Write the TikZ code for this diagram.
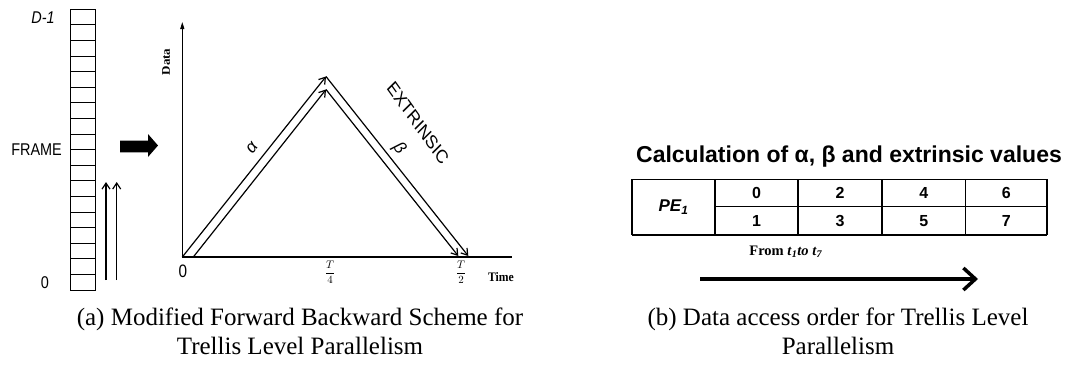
\documentclass[tikz,border=0pt]{standalone}
\usepackage{fontspec}
\setmainfont{Liberation Serif}
\setsansfont{Liberation Sans}
\usetikzlibrary{arrows.meta}

\tikzset{
  sflabel/.style={font=\sffamily\fontsize{17}{19}\selectfont, inner sep=0pt, xscale=0.85},
  axlabel/.style={font=\bfseries\fontsize{13}{15}\selectfont, inner sep=0pt, xscale=0.9},
  flow/.style={-{Straight Barb[length=6pt,width=8pt]}, line width=1.2pt},
  cellnum/.style={font=\sffamily\bfseries\fontsize{16}{18}\selectfont, inner sep=0pt},
  caption/.style={font=\fontsize{25}{29}\selectfont, align=center, inner sep=0pt},
}

\begin{document}
\begin{tikzpicture}[x=1pt, y=-1pt]
    \useasboundingbox (0,0) rectangle (1069,370);

    % frame buffer
    \draw[line width=0.9pt] (70,9.3) rectangle (95,290);
    \foreach \k in {1,...,17}
        \draw[line width=0.9pt] (70,{9.3+15.6*\k}) -- (95,{9.3+15.6*\k});
    \node[sflabel, font=\sffamily\itshape\fontsize{17}{19}\selectfont] (dtop) at (43,18) {D-1};
    \node[sflabel, anchor=east] (frame) at (62,149.7) {FRAME};
    \node[sflabel] (dzero) at (45,283) {0};

    % read direction
    \coordinate (r1s) at (106,280); \coordinate (r1e) at (106,182);
    \coordinate (r2s) at (116.7,280); \coordinate (r2e) at (116.7,182);
    \draw[flow] (r1s) -- (r1e);
    \draw[flow] (r2s) -- (r2e);

    % block arrow
    \fill (120,140.7) -- (148,140.7) -- (148,134) -- (158,145.5) -- (148,157) -- (148,152.3) -- (120,152.3) -- cycle;

    % axes
    \coordinate (orig) at (182.3,257);
    \coordinate (ytop) at (182.3,22);
    \coordinate (xend) at (512,257);
    \draw[line width=1.2pt, -{Triangle[length=7pt,width=4pt]}] (orig) -- (ytop);
    \draw[line width=1.2pt] (orig) -- (xend);
    \node[axlabel, rotate=90] (data) at (166,62) {Data};
    \node[axlabel] (time) at (501,277) {Time};
    \node[sflabel, font=\sffamily\fontsize{18}{20}\selectfont] (zero) at (183,271) {0};
    \node[inner sep=0pt, font=\fontsize{11}{13}\selectfont] (quarter) at (330,272) {$\displaystyle\frac{T}{4}$};
    \node[inner sep=0pt, font=\fontsize{11}{13}\selectfont] (half) at (461,272) {$\displaystyle\frac{T}{2}$};

    % forward and backward recursions
    \coordinate (a1) at (193.3,257);
    \coordinate (p1) at (326,76.5);
    \coordinate (p2) at (326,89.5);
    \coordinate (e1) at (468.3,256);
    \coordinate (e2) at (458.3,256);
    \draw[flow] (orig) -- (p1);
    \draw[flow] (a1) -- (p2);
    \draw[flow] (p1) -- (e1);
    \draw[flow] (p2) -- (e2);
    \node[inner sep=0pt, font=\sffamily\itshape\fontsize{17}{19}\selectfont, rotate=52] (alpha) at (252,148) {α};
    \node[inner sep=0pt, font=\sffamily\itshape\fontsize{17}{19}\selectfont, rotate=-52] (beta) at (399,149) {β};
    \node[sflabel, font=\sffamily\fontsize{19}{21}\selectfont, rotate=-50] (extr) at (418,123) {EXTRINSIC};

    % access order table
    \node[inner sep=0pt, font=\sffamily\bfseries\fontsize{23}{25}\selectfont] (title) at (849,157) {Calculation of α, β and extrinsic values};
    \draw[line width=1.1pt] (715,206.7) -- (1046.7,206.7);
    \draw[line width=1.1pt] (632,179.3) -- (1046.7,179.3) (632,235) -- (1046.7,235);
    \foreach \x in {715,798,882,965.7}
        \draw[line width=1.4pt] (\x,179.3) -- (\x,235);
    \draw[line width=2pt] (632,179.3) -- (632,235) (1046.7,179.3) -- (1046.7,235);
    \node[cellnum, font=\sffamily\bfseries\itshape\fontsize{17}{19}\selectfont] (pe) at (673.5,207) {PE\textsubscript{1}};
    \node[cellnum] (c0) at (756.5,193) {0};
    \node[cellnum] (c2) at (840,193) {2};
    \node[cellnum] (c4) at (923.8,193) {4};
    \node[cellnum] (c6) at (1006.4,193) {6};
    \node[cellnum] (c1) at (756.5,221) {1};
    \node[cellnum] (c3) at (840,221) {3};
    \node[cellnum] (c5) at (923.8,221) {5};
    \node[cellnum] (c7) at (1006.4,221) {7};

    \node[inner sep=0pt, font=\bfseries\fontsize{14.5}{16}\selectfont] (from) at (786,252) {From \textit{t}\textsubscript{\textit{1}}\textit{to t}\textsubscript{\textit{7}}};
    \coordinate (fa) at (700,279);
    \coordinate (fb) at (978,279);
    \draw[line width=3.5pt, -{Straight Barb[length=12pt,width=22pt]}] (fa) -- (fb);

    % captions
    \node[caption] (capa) at (300,331) {(a) Modified Forward Backward Scheme for\\Trellis Level Parallelism};
    \node[caption] (capb) at (838,331) {(b) Data access order for Trellis Level\\Parallelism};
\end{tikzpicture}
\end{document}
